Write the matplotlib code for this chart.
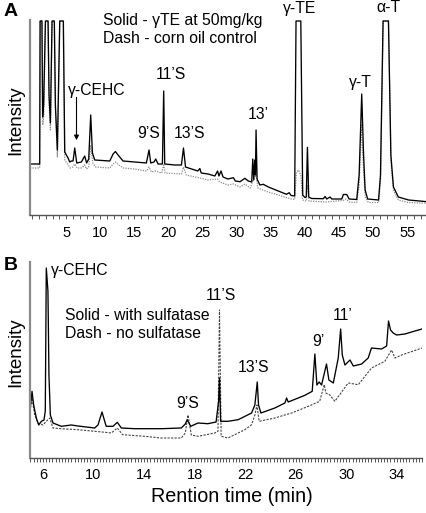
import matplotlib
matplotlib.use('Agg')
import matplotlib.pyplot as plt
from matplotlib.ticker import MultipleLocator, FixedLocator

plt.rcParams['font.family'] = ['Liberation Sans', 'DejaVu Sans']

# ---------------- data ----------------
# Panel A: retention time (min) and intensity (arbitrary units)
a_solid_t = [-0.3, 1.12, 1.18, 1.45, 1.55, 1.70, 1.96, 2.35, 2.49, 2.69, 2.93, 3.27, 3.42, 3.71,
             4.06, 4.59, 4.79, 5.28, 5.52, 5.77, 6.01, 6.26, 6.55, 7.23, 7.72, 8.0, 8.31, 8.6,
             8.85, 9.19, 11.39, 11.88, 12.22, 12.61, 13.34, 15.05, 16.76, 17.15, 17.4, 17.89,
             18.13, 18.47, 19.11, 19.3, 19.45, 20.9, 21.9, 22.2, 22.5, 23.4, 24.3, 24.6, 24.8,
             25.8, 26.8, 27.2, 27.4, 27.7, 28.0, 28.7, 29.52, 29.8, 30.5, 31.2, 31.7, 32.2,
             32.36, 32.5, 32.65, 32.75, 32.84, 32.99, 33.4, 33.9, 34.65, 36.1, 37.3, 37.7,
             37.97, 38.5, 38.7, 39.4, 39.68, 40.0, 40.2, 40.37, 40.56, 41.0, 42.7, 42.96, 43.2,
             43.7, 43.94, 45.4, 45.65, 46.14, 46.48, 47.6, 47.95, 48.33, 48.6, 48.83, 49.2,
             50.8, 51.08, 51.46, 52.25, 52.6, 52.98, 53.7, 55.2, 57.9]
a_solid_y = [51, 51, 194, 194, 98, 110, 194, 194, 120, 92, 194, 194, 110, 65,
             194, 194, 63, 57, 53, 54, 54, 67, 52, 53, 59, 52, 56, 100,
             62, 55, 54, 61, 63.5, 60, 54, 53, 52, 65, 52, 53,
             56, 51, 51, 124, 51, 50, 50, 67, 48, 46, 44, 46.5, 42,
             41, 39, 44, 39, 44, 38, 36, 37.3, 34, 33.3, 36.7, 34, 33,
             56, 35, 55, 40, 85, 36, 30, 30.7, 28, 24, 20.7, 22.3,
             19.5, 19, 194, 194, 20, 17.5, 18, 67.7, 18, 16.5, 16.3, 18.5, 16,
             18, 16, 16, 20.5, 20.5, 16, 15.5, 40, 121, 60, 25, 16,
             15, 40, 194, 194, 60, 28, 18, 15, 13.3]

a_dash_t = [-0.3, 1.12, 1.2, 1.45, 1.58, 1.72, 1.98, 2.33, 2.5, 2.7, 2.95, 3.25, 3.45, 3.72,
            4.08, 4.57, 4.8, 5.3, 5.6, 6.0, 6.26, 6.6, 7.3, 7.72, 8.0, 8.3, 8.6, 8.9, 9.3,
            11.4, 11.9, 12.25, 12.7, 13.4, 15.0, 16.8, 17.15, 17.5, 18.1, 19.0, 19.3, 19.5,
            21.9, 22.2, 22.6, 24.6, 25.8, 27.2, 27.5, 28.7, 29.5, 30.5, 31.2, 32.0, 32.4,
            32.85, 33.1, 34.6, 36.1, 38.0, 38.5, 38.75, 39.05, 39.4, 39.65, 40.2, 40.37, 40.6,
            43.0, 45.6, 46.0, 46.5, 47.6, 47.95, 48.3, 48.6, 48.85, 49.3, 50.8, 51.1, 51.48,
            52.25, 52.65, 53.0, 53.7, 55.2, 57.9]
a_dash_y = [47, 47, 194, 194, 90, 100, 194, 194, 110, 85, 194, 194, 100, 58,
            194, 194, 55, 50, 47, 48, 51, 47, 47, 50, 46, 48, 70, 52, 48,
            47, 51, 53, 50, 47, 46, 44, 48, 43, 44, 42, 50, 42,
            41, 48, 40, 37, 35, 36, 33, 30, 31, 28, 31, 27, 35,
            40, 27, 23, 20, 16, 15.5, 42, 45, 40, 15, 14, 30, 14,
            13, 14.5, 16, 13, 12.5, 30, 90, 45, 18, 12.5, 12.5, 35, 194,
            194, 50, 24, 15, 12.5, 11.7]

# Panel B
b_solid_t = [4.97, 5.13, 5.26, 5.47, 5.66, 5.87, 6.08, 6.18, 6.26, 6.39, 6.47, 6.58, 6.79, 7.45,
             8.24, 8.77, 10.09, 10.35, 10.67, 11.0, 11.54, 11.88, 12.2, 13.25, 15.36, 16.95,
             17.26, 17.42, 17.69, 18.27, 19.05, 19.7, 19.9, 19.97, 20.06, 20.64, 21.45, 22.51,
             22.77, 22.96, 23.06, 23.25, 24.35, 25.15, 25.28, 25.41, 26.73, 27.31, 27.52,
             27.68, 27.86, 28.05, 28.44, 28.63, 28.98, 29.37, 29.56, 29.69, 29.9, 30.3, 30.56,
             31.22, 31.74, 32.0, 32.8, 33.2, 33.35, 33.51, 33.72, 33.99, 34.65, 35.44, 36.0]
b_solid_y = [48, 66.7, 53, 40, 33, 36.7, 38, 47, 190, 167, 83, 43, 35, 31.7,
             33, 32, 30, 33, 46, 31.7, 31.7, 35.7, 30, 29.3, 29.3, 30,
             34, 38.3, 31.7, 35, 34.3, 36, 56.7, 80, 36.7, 36.7, 38.3, 45,
             53, 76, 53, 45, 50, 55, 60, 56, 62.7, 66.7, 104,
             73, 76, 73, 94, 78, 75, 100, 129, 103, 93, 98, 92,
             94, 100, 110, 109, 112, 137, 128, 125, 123, 124, 127, 129]

b_dash_t = [4.97, 5.13, 5.34, 5.6, 6.0, 6.26, 6.53, 6.79, 7.45, 8.77, 10.09, 10.67, 11.41, 11.88,
            12.3, 14.04, 15.36, 16.95, 17.26, 17.48, 17.74, 18.27, 19.59, 19.85, 19.97, 20.1,
            20.64, 21.98, 22.51, 22.77, 22.93, 23.11, 24.35, 25.68, 27.0, 27.9, 28.26, 28.39,
            28.71, 29.1, 30.16, 30.96, 32.0, 33.06, 33.59, 33.86, 34.39, 36.0]
b_dash_y = [46.7, 60, 43, 35, 33, 36.7, 40, 30, 29.3, 28.3, 26.7, 26, 25, 30,
            23.3, 21.7, 20, 20, 25, 43, 23, 21.7, 25, 26.7, 148, 21.7,
            20, 28.3, 33.3, 43, 53, 36.7, 40, 45, 51.7, 56.7, 73.3, 65,
            63, 56.7, 75, 73.3, 90, 96.7, 108, 100, 103, 110]

a_ticks = [5, 10, 15, 20, 25, 30, 35, 40, 45, 50, 55]
b_ticks = [6, 10, 14, 18, 22, 26, 30, 34]

# ---------------- layout ----------------
W, H = 427, 513
fig = plt.figure(figsize=(W / 100, H / 100), dpi=100)


def fx(px):
    return px / W


def fy(py):
    return 1 - py / H


def style_axis(ax, major, minor_step, pad):
    for s in ('top', 'right'):
        ax.spines[s].set_visible(False)
    ax.spines['left'].set_color('#8a8a8a')
    ax.spines['left'].set_linewidth(1.6)
    ax.spines['bottom'].set_color('#555555')
    ax.spines['bottom'].set_linewidth(1.0)
    ax.set_yticks([])
    ax.xaxis.set_major_locator(FixedLocator(major))
    ax.xaxis.set_minor_locator(MultipleLocator(minor_step))
    ax.tick_params(axis='x', which='both', direction='out', length=3, width=0.7,
                   color='#555555', labelsize=10.5, pad=pad)


axA = fig.add_axes([fx(30), fy(215), fx(427) - fx(30), fy(20) - fy(215)])
axA.plot(a_dash_t, a_dash_y, color='#8c8c8c', lw=0.9, ls=(0, (1, 1)))
axA.plot(a_solid_t, a_solid_y, color='black', lw=0.95)
axA.set_xlim(-0.3, 57.9)
axA.set_ylim(0, 195)
style_axis(axA, a_ticks, 1, 5)

axB = fig.add_axes([fx(30), fy(458), fx(422) - fx(30), fy(262) - fy(458)])
axB.plot(b_dash_t, b_dash_y, color='#444444', lw=0.8, ls=(0, (2, 1.2)))
axB.plot(b_solid_t, b_solid_y, color='black', lw=0.95)
axB.set_xlim(4.97, 36.0)
axB.set_ylim(0, 196)
style_axis(axB, b_ticks, 0.25, 4)


def t(px, py, s, size=11.3, ha='center', **kw):
    fig.text(fx(px), fy(py), s, ha=ha, va='center', fontsize=size, **kw)


# panel letters & axis labels
t(11, 12, 'A', size=14, weight='bold')
t(11, 266, 'B', size=14, weight='bold')
t(16, 120, 'Intensity', size=13.5, rotation=90)
t(16, 352, 'Intensity', size=13.5, rotation=90)
t(232, 496, 'Rention time (min)', size=14.2)

# panel A annotations
t(103, 20, 'Solid - γTE at 50mg/kg', ha='left')
t(103, 39, 'Dash - corn oil control', ha='left')
t(97, 90, 'γ-CEHC')
t(171, 75, '11’S')
t(149, 133, '9’S')
t(190, 133, '13’S')
t(258, 115, '13’')
t(300, 8, 'γ-TE')
t(388, 8, 'α-T')
t(360, 82, 'γ-T')
fig.add_artist(plt.Line2D([fx(76.5), fx(76.5)], [fy(97), fy(135)], color='black', lw=0.8))
axA.annotate('', xy=(fx(76.5), fy(143)), xycoords='figure fraction',
             xytext=(fx(76.5), fy(134)), textcoords='figure fraction',
             arrowprops=dict(arrowstyle='-|>', color='black', lw=0.8, mutation_scale=7))

# panel B annotations
t(51, 270, 'γ-CEHC', ha='left')
t(65, 315, 'Solid - with sulfatase', ha='left')
t(65, 334, 'Dash - no sulfatase', ha='left')
t(221, 295, '11’S')
t(188, 403, '9’S')
t(254, 368, '13’S')
t(318, 341, '9’')
t(343, 315, '11’')

fig.savefig('out.png', dpi=100)
